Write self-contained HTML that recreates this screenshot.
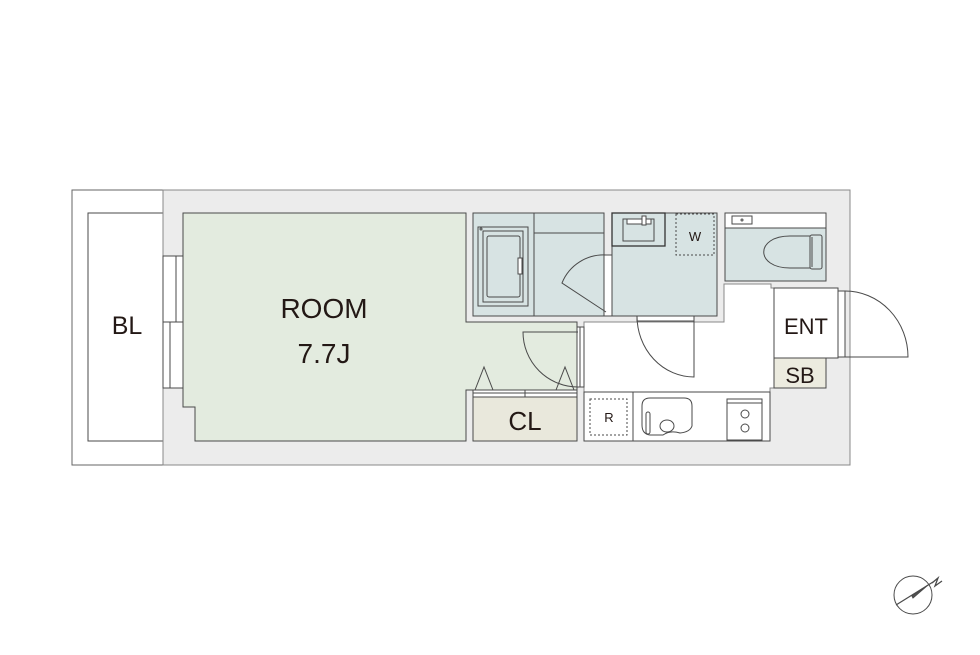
<!DOCTYPE html>
<html><head><meta charset="utf-8"><style>
html,body{margin:0;padding:0;background:#fff;}
svg{display:block;}
text{font-family:"Liberation Sans",sans-serif;fill:#231815;}
</style></head><body>
<svg width="980" height="655" viewBox="0 0 980 655" xmlns="http://www.w3.org/2000/svg">
<g stroke="#4a4a4a" stroke-width="1" fill="none">
<rect x="72" y="190" width="91" height="275" fill="#fff" stroke="#666"/>
<rect x="88" y="213" width="75" height="228" fill="#fff"/>
<rect x="163" y="190" width="687" height="275" fill="#ececec" stroke="#888"/>
<rect x="163" y="256" width="20" height="132" fill="#fff"/>
<line x1="176" y1="256" x2="176" y2="322"/><line x1="163" y1="322" x2="183" y2="322"/>
<line x1="170" y1="322" x2="170" y2="388"/>
<path d="M183 213 H466 V322 H577 V390 H466 V441 H195 V407 H183 Z" fill="#e3ebdf"/>
<rect x="473" y="213" width="131" height="103" fill="#d7e3e3"/>
<line x1="534" y1="213" x2="534" y2="316"/>
<line x1="534" y1="233" x2="604" y2="233"/>
<rect x="478" y="227" width="50" height="79"/>
<rect x="483" y="231" width="40" height="71"/>
<rect x="487" y="236" width="33" height="61" rx="2"/>
<rect x="518" y="258" width="4" height="16" fill="#fff"/>
<circle cx="481" cy="229" r="1"/>
<rect x="604" y="255" width="8" height="61" fill="#fff"/>
<path d="M606 312 L562 283 A45 45 0 0 1 606 255"/>
<rect x="612" y="213" width="105" height="103" fill="#d7e3e3"/>
<rect x="612" y="213" width="53" height="33" stroke="#333" stroke-width="1.3"/>
<rect x="623" y="219" width="31" height="22"/>
<rect x="627" y="219" width="24" height="5" fill="#fff"/>
<rect x="642" y="216" width="4" height="9" fill="#fff"/>
<rect x="676" y="214" width="38" height="41" stroke-dasharray="2,2"/>
<rect x="725" y="213" width="101" height="68" fill="#d7e3e3"/>
<rect x="725" y="213" width="101" height="15" fill="#fff"/>
<rect x="732" y="216" width="20" height="8"/>
<circle cx="742" cy="220" r="1"/>
<path d="M810 268 H790 C755 268 755 236 790 236 H810"/>
<rect x="810" y="235" width="12" height="34" rx="2"/>
<line x1="812" y1="237" x2="812" y2="267"/>
<path d="M584 322 H724 V284 H771 V288 H774 V388 H770 V441 H584 Z" fill="#fff" stroke="#888"/>
<rect x="577" y="327" width="7" height="60" fill="#fff"/>
<line x1="580" y1="327" x2="580" y2="387"/>
<path d="M578 387 A55 55 0 0 1 523 332 H578"/>
<rect x="637" y="316" width="57" height="5" fill="#fff"/>
<path d="M694 316 V377 A57 61 0 0 1 637 316"/>
<rect x="774" y="288" width="64" height="70" fill="#fff"/>
<rect x="774" y="358" width="52" height="30" fill="#ecebdf"/>
<rect x="838" y="291" width="7" height="66" fill="#fff"/>
<path d="M845 357 H908 A63 66 0 0 0 845 291"/>
<rect x="473" y="390" width="104" height="51" fill="#e9e8dc"/>
<rect x="473" y="390" width="104" height="7" fill="#fff"/>
<line x1="473" y1="393" x2="577" y2="393"/><line x1="525" y1="390" x2="525" y2="397"/>
<path d="M475 390 L484 367 L493 390 M556 390 L565 367 L574 390"/>
<rect x="584" y="392" width="186" height="49" fill="#fff"/>
<line x1="633" y1="392" x2="633" y2="441"/>
<rect x="590" y="399" width="37" height="36" stroke-dasharray="2,2"/>
<path d="M650 398 H684 Q692 398 692 406 V426 Q690 432 680 433 Q670 430 663 435 H650 Q642 434 642 425 V406 Q642 398 650 398Z"/>
<ellipse cx="667" cy="426" rx="7" ry="6"/>
<rect x="646" y="412" width="4" height="22" rx="2"/>
<rect x="727" y="399" width="35" height="41"/>
<line x1="727" y1="403" x2="762" y2="403"/>
<circle cx="745" cy="414" r="4"/><circle cx="745" cy="428" r="4"/>
<circle cx="913" cy="595" r="19"/>
<line x1="896" y1="605" x2="933" y2="582" stroke-width="1.2"/>
<path d="M912 596 L928 585 L913 598 Z" fill="#555"/>
<path d="M932 583 L938 578 L935 586 L942 581" stroke-width="1.3"/>
</g>
<text x="127" y="334" font-size="25" text-anchor="middle">BL</text>
<text x="324" y="318" font-size="28" text-anchor="middle">ROOM</text>
<text x="324" y="363" font-size="28" text-anchor="middle">7.7J</text>
<text x="525" y="430" font-size="26" text-anchor="middle">CL</text>
<text x="806" y="334" font-size="22" text-anchor="middle">ENT</text>
<text x="800" y="383" font-size="22" text-anchor="middle">SB</text>
<text x="695" y="241" font-size="13" text-anchor="middle">W</text>
<text x="609" y="422" font-size="13" text-anchor="middle">R</text>
</svg>
</body></html>
